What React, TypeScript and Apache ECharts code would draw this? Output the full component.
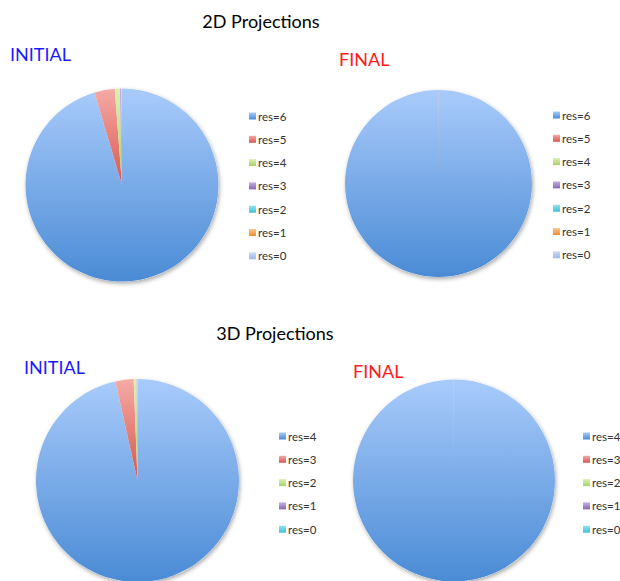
import React, { useEffect, useRef } from "react";
import * as echarts from "echarts";

const topNames = ["res=6", "res=5", "res=4", "res=3", "res=2", "res=1", "res=0"];
const bottomNames = ["res=4", "res=3", "res=2", "res=1", "res=0"];

const topInitial = [95.4, 3.4, 0.85, 0.25, 0.07, 0.03, 0];
const topFinal = [99.97, 0.03, 0, 0, 0, 0, 0];
const bottomInitial = [96.5, 2.9, 0.45, 0.1, 0.05];
const bottomFinal = [99.97, 0.03, 0, 0, 0];

const titles2D = "2D Projections";
const titles3D = "3D Projections";

const topColors: [string, string][] = [
  ["#a9cbfb", "#4a8bd5"],
  ["#f6aaa6", "#d6574f"],
  ["#dcf1ae", "#a9d06c"],
  ["#c4aee3", "#8868b8"],
  ["#93e4f4", "#3ebfd8"],
  ["#fcc894", "#f48a2c"],
  ["#cbdcf8", "#9ab9ea"],
];
const bottomColors = topColors.slice(0, 5);

const FONT = "Lato, 'Open Sans', sans-serif";

function grad(c: [string, string]) {
  return new echarts.graphic.LinearGradient(0, 0, 0, 1, [
    { offset: 0, color: c[0] },
    { offset: 1, color: c[1] },
  ]);
}

function pieSeries(values: number[], names: string[], colors: [string, string][], center: [number, number], r: number) {
  return [
    {
      type: "pie",
      silent: true,
      center,
      radius: r,
      label: { show: false },
      labelLine: { show: false },
      itemStyle: {
        color: "#ffffff",
        shadowBlur: 4,
        shadowColor: "rgba(0,0,0,0.35)",
        shadowOffsetX: 1,
        shadowOffsetY: 2,
      },
      data: [{ name: "_shadow", value: 1 }],
    },
    {
      type: "pie",
      silent: true,
      center,
      radius: r,
      startAngle: 90,
      clockwise: true,
      label: { show: false },
      labelLine: { show: false },
      itemStyle: { borderWidth: 0 },
      data: values.map((v, i) => ({
        name: names[i],
        value: v,
        itemStyle: { color: grad(colors[i]) },
      })),
    },
  ];
}

function legend(names: string[], colors: [string, string][], left: number, top: number) {
  return {
    orient: "vertical",
    left,
    top,
    icon: "rect",
    itemWidth: 7,
    itemHeight: 7,
    itemGap: 9.3,
    selectedMode: false,
    textStyle: {
      fontFamily: FONT,
      fontSize: 11.5,
      color: "#333333",
      lineHeight: 14,
      padding: [0, 0, 0, -3],
    },
    data: names.map((n, i) => ({ name: n, itemStyle: { color: grad(colors[i]) } })),
  };
}

function txt(text: string, x: number, y: number, color: string, size: number, align = "left") {
  return {
    type: "text",
    x,
    y,
    style: {
      text,
      fill: color,
      font: `${size}px ${FONT}`,
      textAlign: align,
      textVerticalAlign: "middle",
    },
  };
}

export default function App() {
  const ref = useRef<HTMLDivElement>(null);
  useEffect(() => {
    document.body.style.margin = "0";
    const chart = echarts.init(ref.current!, null, { renderer: "svg" });
    chart.setOption({
      animation: false,
      backgroundColor: "#ffffff",
      legend: [
        legend(topNames, topColors, 244, 104),
        legend(topNames, topColors, 548, 103),
        legend(bottomNames, bottomColors, 274, 424),
        legend(bottomNames, bottomColors, 578, 424),
      ],
      series: [
        ...pieSeries(topInitial, topNames, topColors, [122, 185], 96.5),
        ...pieSeries(topFinal, topNames, topColors, [438.5, 183.5], 93.5),
        ...pieSeries(bottomInitial, bottomNames, bottomColors, [137.5, 480.5], 101.5),
        ...pieSeries(bottomFinal, bottomNames, bottomColors, [454, 480.5], 101),
      ],
      graphic: [
        txt(titles2D, 261, 21, "#000000", 18, "center"),
        txt("INITIAL", 10, 54, "#1a1aff", 18),
        txt("FINAL", 339, 59, "#ff1a1a", 18),
        txt(titles3D, 275, 333, "#000000", 18, "center"),
        txt("INITIAL", 24, 367, "#1a1aff", 18),
        txt("FINAL", 353, 371, "#ff1a1a", 18),
      ],
    });
    return () => chart.dispose();
  }, []);
  return <div ref={ref} style={{ width: 620, height: 581 }} />;
}
